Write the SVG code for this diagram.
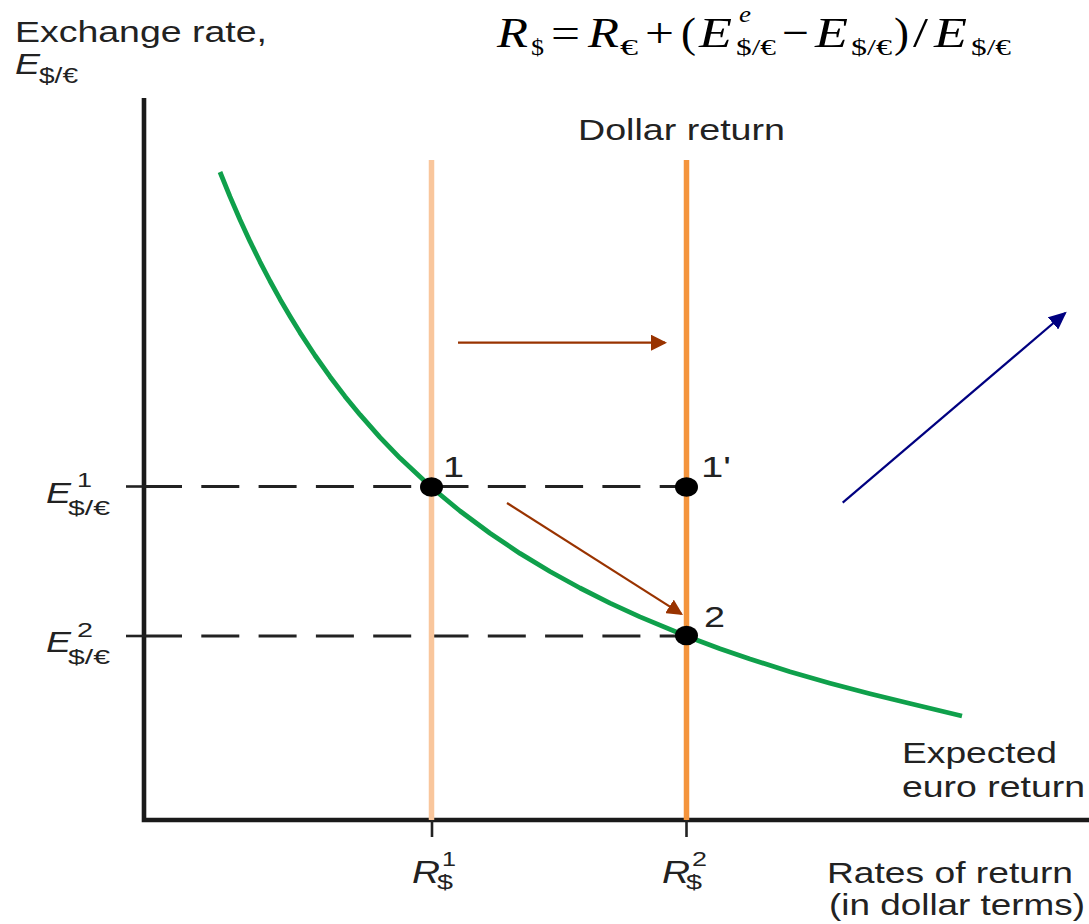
<svg xmlns="http://www.w3.org/2000/svg" width="1089" height="924" viewBox="0 0 1089 924">
<defs>
<style>
.sans{font-family:"Liberation Sans",Arial,sans-serif;fill:#222}
.ital{font-style:italic}
.serif{font-family:"Liberation Serif","Times New Roman",serif;fill:#000}
.dash{stroke:#222;stroke-width:3;stroke-dasharray:38 19.3;fill:none}
.tick{stroke:#222;stroke-width:2.6}
.dot{fill:#000}
.brown{stroke:#993300;stroke-width:2.2;fill:none}
.navy{stroke:#000080;stroke-width:2.2;fill:none}
</style>
<marker id="ahBrown" viewBox="0 0 16 16" refX="14" refY="8" markerWidth="16" markerHeight="16" markerUnits="userSpaceOnUse" orient="auto">
<path d="M0,0 L16,8 L0,16 z" fill="#993300"/>
</marker>
<marker id="ahNavy" viewBox="0 0 18 16" refX="16" refY="8" markerWidth="18" markerHeight="16" markerUnits="userSpaceOnUse" orient="auto">
<path d="M0,0 L18,8 L0,16 z" fill="#000080"/>
</marker>
</defs>
<rect width="1089" height="924" fill="#fff"/>

<g id="formula">
<text class="serif ital" x="497" y="47" font-size="43" textLength="31" lengthAdjust="spacingAndGlyphs">R</text>
<text class="serif" x="531" y="55" font-size="24" textLength="13" lengthAdjust="spacingAndGlyphs">$</text>
<text class="serif" x="551" y="47" font-size="43" textLength="29" lengthAdjust="spacingAndGlyphs">=</text>
<text class="serif ital" x="588" y="47" font-size="43" textLength="31" lengthAdjust="spacingAndGlyphs">R</text>
<text class="serif" x="620" y="55" font-size="24" textLength="18" lengthAdjust="spacingAndGlyphs">€</text>
<text class="serif" x="645" y="47" font-size="43" textLength="29" lengthAdjust="spacingAndGlyphs">+</text>
<text class="serif" x="681" y="47" font-size="43" textLength="15" lengthAdjust="spacingAndGlyphs">(</text>
<text class="serif ital" x="699" y="47" font-size="43" textLength="33" lengthAdjust="spacingAndGlyphs">E</text>
<text class="serif ital" x="739" y="22" font-size="24" textLength="12" lengthAdjust="spacingAndGlyphs">e</text>
<text class="serif" x="736" y="55" font-size="24" textLength="40" lengthAdjust="spacingAndGlyphs">$/€</text>
<text class="serif" x="782" y="47" font-size="43" textLength="27" lengthAdjust="spacingAndGlyphs">−</text>
<text class="serif ital" x="815" y="47" font-size="43" textLength="33" lengthAdjust="spacingAndGlyphs">E</text>
<text class="serif" x="851" y="55" font-size="24" textLength="41" lengthAdjust="spacingAndGlyphs">$/€</text>
<text class="serif" x="894" y="47" font-size="43" textLength="15" lengthAdjust="spacingAndGlyphs">)</text>
<text class="serif" x="913" y="47" font-size="43" textLength="15" lengthAdjust="spacingAndGlyphs">/</text>
<text class="serif ital" x="934" y="47" font-size="43" textLength="33" lengthAdjust="spacingAndGlyphs">E</text>
<text class="serif" x="971" y="55" font-size="24" textLength="40" lengthAdjust="spacingAndGlyphs">$/€</text>
</g>

<g id="y-axis-title">
<text class="sans" x="15" y="42" font-size="30" textLength="252" lengthAdjust="spacingAndGlyphs">Exchange rate,</text>
<text class="sans ital" x="15" y="74" font-size="30" textLength="25" lengthAdjust="spacingAndGlyphs">E</text>
<text class="sans" x="39" y="83" font-size="22" textLength="39" lengthAdjust="spacingAndGlyphs">$/€</text>
</g>

<g id="axes">
<path d="M144,98 V820 H1089" fill="none" stroke="#1a1a1a" stroke-width="4.6" stroke-linejoin="miter"/>
<line class="tick" x1="126" y1="486.5" x2="144" y2="486.5"/>
<line class="tick" x1="126" y1="636" x2="144" y2="636"/>
<line class="tick" x1="432" y1="820" x2="432" y2="837"/>
<line class="tick" x1="686.5" y1="820" x2="686.5" y2="837"/>
</g>

<g id="guides">
<line class="dash" x1="144" y1="486.5" x2="686" y2="486.5"/>
<line class="dash" x1="144" y1="636" x2="686" y2="636"/>
</g>

<g id="dollar-return-1">
<line x1="431.5" y1="160" x2="431.5" y2="820" stroke="#F9C69C" stroke-width="5.5"/>
</g>
<g id="dollar-return-2">
<line x1="686.5" y1="160" x2="686.5" y2="820" stroke="#F4943C" stroke-width="5.5"/>
<text class="sans" x="578" y="140" font-size="30" textLength="207" lengthAdjust="spacingAndGlyphs">Dollar return</text>
</g>

<g id="expected-euro-return">
<path d="M220,172 L230,196.6 L240,219.7 L250,241.4 L260,261.8 L270,281 L280,299.2 L290,316.3 L300,332.6 L315,355.5 L330,376.7 L345,396.4 L360,414.7 L380,437.3 L400,458.1 L431,487 L460,511 L490,533.3 L520,553.4 L550,571.5 L580,588 L610,603.1 L640,616.9 L686,636 L720,648.7 L750,659 L790,671.7 L830,683.2 L870,693.8 L910,703.5 L962,716" fill="none" stroke="#0FA04B" stroke-width="4.8" stroke-linejoin="round"/>
<text class="sans" x="902" y="763" font-size="30" textLength="155" lengthAdjust="spacingAndGlyphs">Expected</text>
<text class="sans" x="902" y="797" font-size="30" textLength="183" lengthAdjust="spacingAndGlyphs">euro return</text>
</g>

<g id="point-1">
<ellipse class="dot" cx="431.5" cy="487" rx="11.5" ry="9.8"/>
<text class="sans" x="443" y="477" font-size="30" textLength="21" lengthAdjust="spacingAndGlyphs">1</text>
</g>
<g id="point-1prime">
<ellipse class="dot" cx="686.5" cy="487" rx="11.5" ry="9.8"/>
<text class="sans" x="701" y="477" font-size="30" textLength="30" lengthAdjust="spacingAndGlyphs">1'</text>
</g>
<g id="point-2">
<ellipse class="dot" cx="686.5" cy="635.5" rx="11.5" ry="9.8"/>
<text class="sans" x="704" y="627" font-size="30" textLength="21" lengthAdjust="spacingAndGlyphs">2</text>
</g>

<g id="y-labels">
<text class="sans ital" x="46" y="503" font-size="30" textLength="25" lengthAdjust="spacingAndGlyphs">E</text>
<text class="sans" x="77" y="487" font-size="21" textLength="15" lengthAdjust="spacingAndGlyphs">1</text>
<text class="sans" x="68" y="515" font-size="20" textLength="42" lengthAdjust="spacingAndGlyphs">$/€</text>
<text class="sans ital" x="46" y="652" font-size="30" textLength="25" lengthAdjust="spacingAndGlyphs">E</text>
<text class="sans" x="77" y="637" font-size="21" textLength="16" lengthAdjust="spacingAndGlyphs">2</text>
<text class="sans" x="68" y="664" font-size="20" textLength="42" lengthAdjust="spacingAndGlyphs">$/€</text>
</g>

<g id="x-labels">
<text class="sans ital" x="412" y="883" font-size="31" textLength="28" lengthAdjust="spacingAndGlyphs">R</text>
<text class="sans" x="442" y="866" font-size="21" textLength="14" lengthAdjust="spacingAndGlyphs">1</text>
<text class="sans" x="437" y="889" font-size="21" textLength="16" lengthAdjust="spacingAndGlyphs">$</text>
<text class="sans ital" x="662" y="883" font-size="31" textLength="28" lengthAdjust="spacingAndGlyphs">R</text>
<text class="sans" x="692" y="866" font-size="21" textLength="15" lengthAdjust="spacingAndGlyphs">2</text>
<text class="sans" x="686" y="889" font-size="21" textLength="16" lengthAdjust="spacingAndGlyphs">$</text>
<text class="sans" x="827" y="883" font-size="30" textLength="246" lengthAdjust="spacingAndGlyphs">Rates of return</text>
<text class="sans" x="829" y="915" font-size="30" textLength="256" lengthAdjust="spacingAndGlyphs">(in dollar terms)</text>
</g>

<g id="connectors">
<line class="brown" x1="458" y1="342.7" x2="665" y2="342.7" marker-end="url(#ahBrown)"/>
<line class="brown" x1="507" y1="503" x2="681.3" y2="613.9" marker-end="url(#ahBrown)"/>
<line class="navy" x1="842.7" y1="502.7" x2="1065.2" y2="313" marker-end="url(#ahNavy)"/>
</g>
</svg>
